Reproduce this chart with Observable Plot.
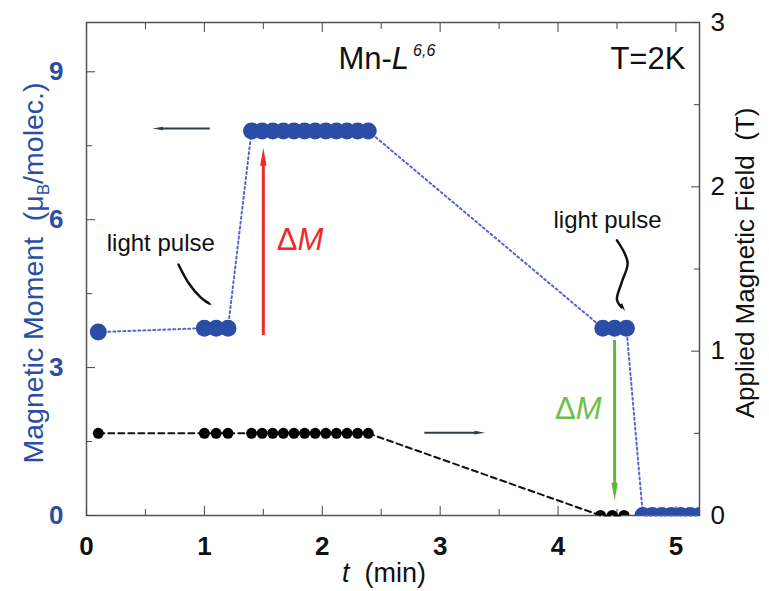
<!DOCTYPE html>
<html><head><meta charset="utf-8">
<script src="https://cdn.jsdelivr.net/npm/d3@7"></script>
<script src="https://cdn.jsdelivr.net/npm/@observablehq/plot@0.6"></script>
<style>body{margin:0;background:#fff} #chart{width:769px;height:591px}</style>
</head><body><div id="chart"></div>
<script>
// Magnetic moment (muB/molec.) vs time (min)
const tMoment = [0.1, 1.0, 1.1, 1.2,
  1.40, 1.49, 1.58, 1.67, 1.76, 1.85, 1.94, 2.03, 2.12, 2.21, 2.30, 2.39,
  4.38, 4.48, 4.58,
  4.72, 4.80, 4.88, 4.96, 5.04, 5.12, 5.20];
const moment = [3.72, 3.8, 3.8, 3.8,
  7.8, 7.8, 7.8, 7.8, 7.8, 7.8, 7.8, 7.8, 7.8, 7.8, 7.8, 7.8,
  3.8, 3.8, 3.8,
  0, 0, 0, 0, 0, 0, 0];
// Applied magnetic field (T) vs time (min)
const tField = [0.1, 1.0, 1.1, 1.2,
  1.40, 1.49, 1.58, 1.67, 1.76, 1.85, 1.94, 2.03, 2.12, 2.21, 2.30, 2.39,
  4.36, 4.46, 4.56];
const field = [0.5, 0.5, 0.5, 0.5,
  0.5, 0.5, 0.5, 0.5, 0.5, 0.5, 0.5, 0.5, 0.5, 0.5, 0.5, 0.5,
  0, 0, 0];
const xTicks = [0, 1, 2, 3, 4, 5];
const xMinor = [0.5, 1.5, 2.5, 3.5, 4.5];
const mTicks = [0, 3, 6, 9];
const mMinor = [1.5, 4.5, 7.5];
const bTicks = [0, 1, 2, 3];
const bMinor = [0.5, 1.5, 2.5];
const B2M = 10 / 3; // right axis (0..3 T) shares the left axis range (0..10)

const momentData = tMoment.map((t, i) => ({t, m: moment[i]}));
const fieldData = tField.map((t, i) => ({t, b: field[i]}));

const BLUE = "#2a4ea6", BLUE_LINE = "#5a63d0", RED = "#ee2a24", GREEN = "#5cb83c", DARK = "#2c3e4a";
const FONT = "Liberation Sans, Arial, Helvetica, sans-serif";

// narrow filled arrowhead symbol, tip at origin pointing up
const head = {draw(ctx, size) { const k = Math.sqrt(size); ctx.moveTo(0, 0); ctx.lineTo(-0.3 * k, 1.7 * k); ctx.lineTo(0.3 * k, 1.7 * k); ctx.closePath(); }};

const chart = Plot.plot({
  width: 769, height: 591,
  marginLeft: 86, marginRight: 70, marginTop: 22, marginBottom: 76,
  x: {domain: [0, 5.2]},
  y: {domain: [0, 10]},
  style: {fontFamily: FONT, background: "white", overflow: "visible"},
  marks: [
    Plot.frame({stroke: "#555", strokeWidth: 1.5}),
    // bottom axis
    Plot.axisX(xTicks, {anchor: "bottom", tickSize: -9, tickPadding: 30, fontSize: 26, fontWeight: "bold", fill: "#111", stroke: "#444", label: null, tickFormat: d => String(d)}),
    Plot.axisX(xMinor, {anchor: "bottom", tickSize: -6, tickFormat: () => "", stroke: "#444", label: null}),
    Plot.axisX(xTicks, {anchor: "top", tickSize: -9, tickFormat: () => "", stroke: "#444", label: null}),
    Plot.axisX(xMinor, {anchor: "top", tickSize: -6, tickFormat: () => "", stroke: "#444", label: null}),
    // left axis (moment)
    Plot.axisY(mTicks, {anchor: "left", tickSize: -9, tickPadding: 32, fontSize: 26, fontWeight: "bold", fill: BLUE, stroke: "#444", label: null, tickFormat: d => String(d)}),
    Plot.axisY(mMinor, {anchor: "left", tickSize: -6, tickFormat: () => "", stroke: "#444", label: null}),
    // right axis (field)
    Plot.axisY(bTicks.map(v => v * B2M), {anchor: "right", tickSize: -9, tickPadding: 20, fontSize: 26, fill: "#111", stroke: "#444", label: null, tickFormat: d => String(Math.round(d / B2M))}),
    Plot.axisY(bMinor.map(v => v * B2M), {anchor: "right", tickSize: -6, tickFormat: () => "", stroke: "#444", label: null}),
    // field series
    Plot.line(fieldData, {x: "t", y: d => d.b * B2M, stroke: "#111", strokeWidth: 2, strokeDasharray: "6,4"}),
    Plot.dot(fieldData, {x: "t", y: d => d.b * B2M, r: 5.5, fill: "#000", clip: true}),
    // moment series
    Plot.line(momentData, {x: "t", y: "m", stroke: BLUE_LINE, strokeWidth: 2, strokeDasharray: "2,3"}),
    Plot.dot(momentData, {x: "t", y: "m", r: 8.5, fill: BLUE, clip: true}),
    // ΔM arrows
    Plot.ruleX([1.5], {y1: 3.65, y2: 7.1, stroke: RED, strokeWidth: 3}),
    Plot.dot([1.5], {x: d => d, y: 7.46, symbol: head, r: 6, fill: RED}),
    Plot.ruleX([4.48], {y1: 3.55, y2: 0.6, stroke: GREEN, strokeWidth: 3}),
    Plot.dot([4.48], {x: d => d, y: 0.3, symbol: head, r: 6, fill: GREEN, rotate: 180}),
    Plot.text(["Δ"], {x: 1.79, y: 5.58, text: d => d, fill: RED, fontSize: 31, textAnchor: "end"}),
    Plot.text(["M"], {x: 1.79, y: 5.58, text: d => d, fill: RED, fontSize: 31, fontStyle: "italic", textAnchor: "start"}),
    Plot.text(["Δ"], {x: 4.15, y: 2.15, text: d => d, fill: "#6cc04a", fontSize: 31, textAnchor: "end"}),
    Plot.text(["M"], {x: 4.15, y: 2.15, text: d => d, fill: "#6cc04a", fontSize: 31, fontStyle: "italic", textAnchor: "start"}),
    // axis-direction arrows
    Plot.ruleY([7.85], {x1: 0.62, x2: 1.05, stroke: DARK, strokeWidth: 2}),
    Plot.dot([7.85], {x: 0.56, y: d => d, symbol: head, r: 3.5, fill: DARK, rotate: -90}),
    Plot.ruleY([1.68], {x1: 2.87, x2: 3.32, stroke: DARK, strokeWidth: 2}),
    Plot.dot([1.68], {x: 3.38, y: d => d, symbol: head, r: 3.5, fill: DARK, rotate: 90}),
    // light pulse annotations
    Plot.text(["light pulse"], {x: 0.63, y: 5.52, text: d => d, fontSize: 24, fill: "#111"}),
    Plot.line([[0.78, 5.09], [0.87, 4.70], [0.97, 4.42], [1.04, 4.30]], {curve: "catmull-rom", stroke: "#111", strokeWidth: 2.5}),
    Plot.dot([[1.07, 4.26]], {x: d => d[0], y: d => d[1], symbol: head, r: 2.8, fill: "#111", rotate: 120}),
    Plot.text(["light pulse"], {x: 4.42, y: 5.98, text: d => d, fontSize: 24, fill: "#111"}),
    Plot.line([[4.50, 5.58], [4.59, 5.13], [4.54, 4.73], [4.50, 4.38], [4.54, 4.22]], {curve: "catmull-rom", stroke: "#111", strokeWidth: 2.5}),
    Plot.dot([[4.57, 4.14]], {x: d => d[0], y: d => d[1], symbol: head, r: 2.8, fill: "#111", rotate: 150}),
    // title-like labels
    Plot.text(["Mn-"], {x: 2.59, y: 9.25, text: d => d, fontSize: 31, textAnchor: "end", fill: "#111"}),
    Plot.text(["L"], {x: 2.59, y: 9.25, text: d => d, fontSize: 31, fontStyle: "italic", textAnchor: "start", fill: "#111"}),
    Plot.text(["6,6"], {x: 2.77, y: 9.43, text: d => d, fontSize: 16, fontStyle: "italic", textAnchor: "start", fill: "#111"}),
    Plot.text(["T=2K"], {x: 5.08, y: 9.25, text: d => d, fontSize: 31, textAnchor: "end", fill: "#111"})
  ]
});
document.getElementById("chart").appendChild(chart);

// axis titles with sub/superscripts and italics
const svg = d3.select(chart);
const lt = svg.append("text").attr("transform", "translate(43,273) rotate(-90)")
  .attr("text-anchor", "middle").attr("font-size", 28.5).attr("fill", BLUE)
  .attr("font-family", FONT).style("white-space", "pre");
lt.append("tspan").text("Magnetic Moment  (μ");
lt.append("tspan").text("B").attr("font-size", 17).attr("dy", 6);
lt.append("tspan").text("/molec.)").attr("dy", -6);

svg.append("text").attr("transform", "translate(754,263) rotate(-90)")
  .attr("text-anchor", "middle").attr("font-size", 26).attr("fill", "#111")
  .attr("font-family", FONT).style("white-space", "pre")
  .text("Applied Magnetic Field  (T)");

const xt = svg.append("text").attr("x", 384).attr("y", 582)
  .attr("text-anchor", "middle").attr("font-size", 27).attr("fill", "#111")
  .attr("font-family", FONT).style("white-space", "pre");
xt.append("tspan").text("t").attr("font-style", "italic");
xt.append("tspan").text("  (min)");
</script>
</body></html>
